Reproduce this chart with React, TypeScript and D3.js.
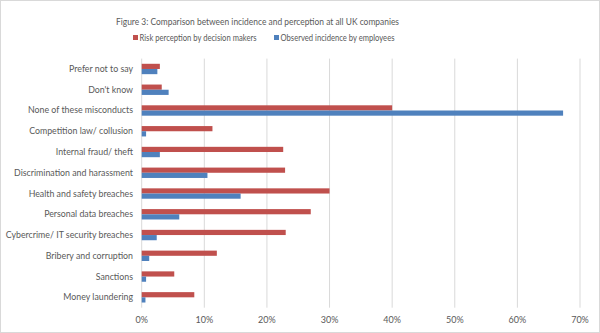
import React from "react";
import * as d3 from "d3";

const categories = [
  "Prefer not to say",
  "Don't know",
  "None of these misconducts",
  "Competition law/ collusion",
  "Internal fraud/ theft",
  "Discrimination and harassment",
  "Health and safety breaches",
  "Personal data breaches",
  "Cybercrime/ IT security breaches",
  "Bribery and corruption",
  "Sanctions",
  "Money laundering",
];
const riskPerception = [2.9, 3.2, 40.0, 11.3, 22.6, 22.9, 30.0, 27.0, 23.0, 12.0, 5.2, 8.4];
const observedIncidence = [2.5, 4.3, 67.3, 0.7, 2.9, 10.5, 15.8, 6.0, 2.4, 1.2, 0.7, 0.6];
const xTicks = [0, 10, 20, 30, 40, 50, 60, 70];
const seriesNames = ["Risk perception by decision makers", "Observed incidence by employees"];
const colors = ["#C0504D", "#4F81BD"];

const W = 600;
const H = 333;
const font = "Lato, 'Open Sans', sans-serif";

export default function App() {
  const left = 141.7;
  const right = 580;
  const top = 58.6;
  const bottom = 307.7;
  const x = d3.scaleLinear().domain([0, 70]).range([left, right]);
  const y = d3.scaleBand<string>().domain(categories).range([top, bottom]).paddingInner(0.5).paddingOuter(0.25);
  const sub = d3.scaleBand<number>().domain([0, 1]).range([0, y.bandwidth()]);
  const series = [riskPerception, observedIncidence];
  const legendX = [133, 274];
  const legendLen = [117, 114];

  return (
    <svg width={W} height={H} style={{ position: "absolute", left: 0, top: 0 }}>
      <rect x={0.5} y={0.5} width={W - 1} height={H - 1} fill="#fff" stroke="#d9d9d9" />
      <text
        x={116}
        y={25}
        fontFamily={font}
        fontSize={10}
        fill="#595959"
        textLength={283}
        lengthAdjust="spacingAndGlyphs"
      >
        Figure 3: Comparison between incidence and perception at all UK companies
      </text>
      {seriesNames.map((n, i) => {
        const lx = legendX[i];
        return (
          <g key={n}>
            <rect x={lx} y={35} width={5} height={5} fill={colors[i]} />
            <text
              x={lx + 6.5}
              y={40.5}
              fontFamily={font}
              fontSize={9}
              fill="#595959"
              textLength={legendLen[i]}
              lengthAdjust="spacingAndGlyphs"
            >
              {n}
            </text>
          </g>
        );
      })}
      {xTicks.map((t) => (
        <g key={t}>
          <line x1={x(t)} x2={x(t)} y1={top} y2={bottom} stroke="#d9d9d9" strokeWidth={1} />
          <text x={x(t)} y={322.5} textAnchor="middle" fontFamily={font} fontSize={9} fill="#595959">
            {t}%
          </text>
        </g>
      ))}
      {categories.map((c, ci) => (
        <g key={c}>
          {series.map((s, si) => (
            <rect
              key={si}
              x={x(0)}
              y={(y(c) as number) + (sub(si) as number)}
              width={x(s[ci]) - x(0)}
              height={sub.bandwidth()}
              fill={colors[si]}
            />
          ))}
          <text
            x={133}
            y={(y(c) as number) + y.bandwidth() / 2 + 3}
            textAnchor="end"
            fontFamily={font}
            fontSize={8.8}
            fill="#595959"
          >
            {c}
          </text>
        </g>
      ))}
    </svg>
  );
}
